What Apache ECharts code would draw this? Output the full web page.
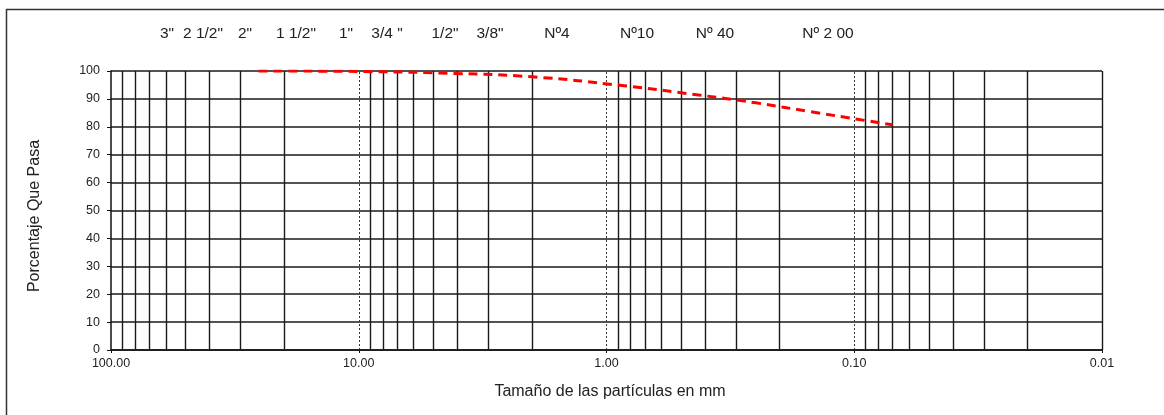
<!DOCTYPE html>
<html>
<head>
<meta charset="utf-8">
<script src="https://cdn.jsdelivr.net/npm/echarts@6/dist/echarts.min.js"></script>
<style>
html,body{margin:0;padding:0;background:#fff;}
#c{width:1164px;height:415px;}
</style>
</head>
<body>
<div id="c"></div>
<script>
// ---- data ----
var sizesMm = [25.4, 19.05, 12.7, 9.525, 4.75, 2.0, 0.85, 0.425, 0.25, 0.15, 0.07];
var percentPassing = [100, 100, 99.9, 99.8, 99.3, 97.9, 94.7, 91.4, 88.6, 85.4, 80.7];
var sieveLabels = ['3"', '2 1/2"', '2"', '1 1/2"', '1"', '3/4 "', '1/2"', '3/8"', 'Nº4', 'Nº10', 'Nº 40', 'Nº 2 00'];
var minorGridValues = [90,80,70,60,50,40,30,20, 9,8,7,6,5,4,3,2, 0.9,0.8,0.7,0.6,0.5,0.4,0.3,0.2, 0.09,0.08,0.07,0.06,0.05,0.04,0.03,0.02, 0.01];
var decadeGridValues = [10, 1, 0.1];
var xTitle = 'Tamaño de las partículas en mm';
var yTitle = 'Porcentaje Que Pasa';

// ---- layout (annotation positions, px) ----
var sieveLabelX = [167, 203, 245, 296, 346, 387, 445, 490, 557, 637, 715, 828];
var sieveLabelY = 34;

var FONT = '"Liberation Sans", Arial, sans-serif';
var TXT = '#222';
var chart = echarts.init(document.getElementById('c'));

var lineData = sizesMm.map(function (s, i) { return [s, percentPassing[i]]; });

var graphics = [{
  type: 'rect', shape: { x: 6.5, y: 9.5, width: 1200, height: 500 },
  style: { fill: 'none', stroke: '#333', lineWidth: 1.5 }, silent: true
}, {
  type: 'text', x: 610, y: 392,
  style: { text: xTitle, fill: TXT, font: '16px ' + FONT, textAlign: 'center', textVerticalAlign: 'middle' },
  silent: true
}, {
  type: 'text', x: 35, y: 216, rotation: Math.PI / 2,
  style: { text: yTitle, fill: TXT, font: '16px ' + FONT, textAlign: 'center', textVerticalAlign: 'middle' },
  silent: true
}];
sieveLabels.forEach(function (t, i) {
  graphics.push({
    type: 'text', x: sieveLabelX[i], y: sieveLabelY,
    style: { text: t, fill: TXT, font: '15.5px ' + FONT, textAlign: 'center', textVerticalAlign: 'middle' },
    silent: true
  });
});

chart.setOption({
  animation: false,
  backgroundColor: '#fff',
  graphic: graphics,
  grid: { left: 111, right: 62, top: 71, bottom: 65 },
  xAxis: {
    type: 'log', logBase: 10, min: 0.01, max: 100, inverse: true,
    axisLine: { show: true, onZero: false, lineStyle: { color: '#111', width: 1.5 } },
    axisTick: { show: true, length: 3, lineStyle: { color: '#111' } },
    axisLabel: {
      fontFamily: FONT, fontSize: 12.5, color: TXT, margin: 7,
      formatter: function (v) { return Number(v).toFixed(2); }
    },
    splitLine: { show: false }
  },
  yAxis: {
    type: 'value', min: 0, max: 100, interval: 10,
    axisLine: { show: true, lineStyle: { color: '#111', width: 1.5 } },
    axisTick: { show: true, length: 4, lineStyle: { color: '#111' } },
    axisLabel: { fontFamily: FONT, fontSize: 12.5, color: TXT, margin: 11 },
    splitLine: { show: true, lineStyle: { color: '#1a1a1a', width: 1.5 } }
  },
  series: [
    {
      type: 'line', data: [], silent: true,
      markLine: {
        silent: true, symbol: ['none', 'none'], label: { show: false },
        lineStyle: { color: '#1a1a1a', width: 1.4, type: 'solid' },
        data: minorGridValues.map(function (v) { return { xAxis: v }; })
      }
    },
    {
      type: 'line', data: [], silent: true,
      markLine: {
        silent: true, symbol: ['none', 'none'], label: { show: false },
        lineStyle: { color: '#333', width: 1, type: [2, 2] },
        data: decadeGridValues.map(function (v) { return { xAxis: v }; })
      }
    },
    {
      type: 'line', data: lineData, smooth: true, showSymbol: false, symbol: 'none',
      lineStyle: { color: '#ff0000', width: 3, type: [9, 6] }, z: 5
    }
  ]
});
</script>
</body>
</html>
